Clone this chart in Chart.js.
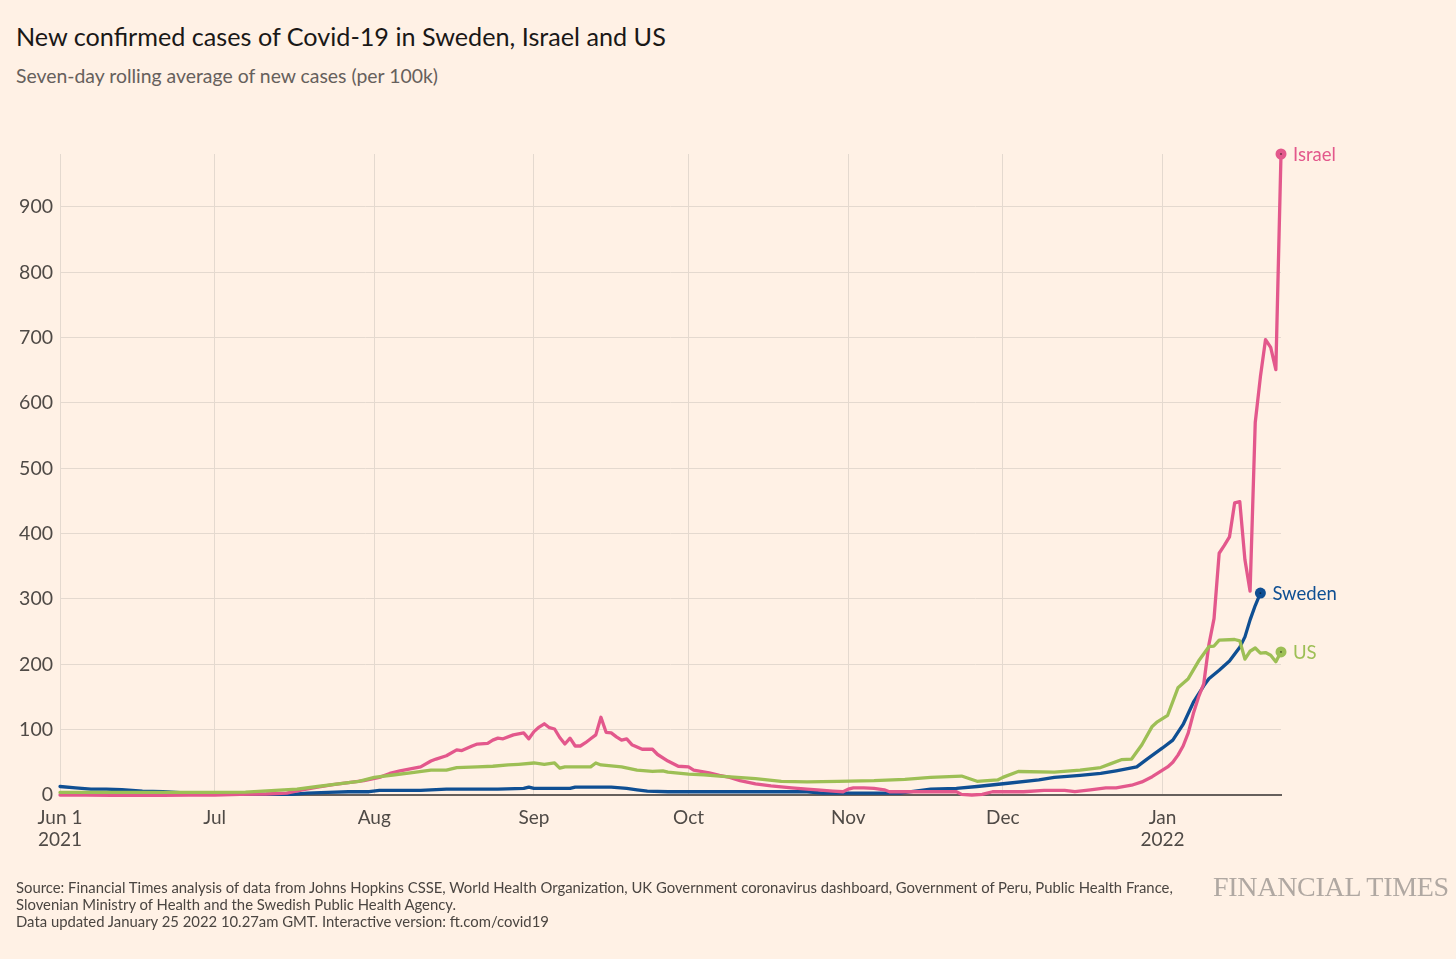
<!DOCTYPE html>
<html>
<head>
<meta charset="utf-8">
<script src="https://cdn.jsdelivr.net/npm/chart.js@4.4.1/dist/chart.umd.min.js"></script>
<style>
  html, body { margin:0; padding:0; background:#fff1e5; }
  body { width:1456px; height:959px; position:relative; overflow:hidden; font-family: Lato, "Open Sans", sans-serif; }
  #title { position:absolute; left:16px; top:22px; font-size:25.2px; line-height:28px; color:#1a1817; white-space:nowrap; }
  #subtitle { position:absolute; left:16px; top:64px; font-size:19.4px; line-height:24px; color:#66605c; white-space:nowrap; }
  #source { position:absolute; left:16px; top:879px; font-size:14.85px; line-height:17px; color:#4a4541; white-space:nowrap; }
  #logo { position:absolute; left:1213px; top:872px; font-family:"Liberation Serif", "DejaVu Serif", serif; font-size:28px; line-height:30px; color:#b0a8a2; white-space:nowrap; letter-spacing:-0.3px; }
  #c { position:absolute; left:0; top:0; }
</style>
</head>
<body>
<div id="title">New confirmed cases of Covid-19 in Sweden, Israel and US</div>
<div id="subtitle">Seven-day rolling average of new cases (per 100k)</div>
<canvas id="c" width="1456" height="959"></canvas>
<div id="source">Source: Financial Times analysis of data from Johns Hopkins CSSE, World Health Organization, UK Government coronavirus dashboard, Government of Peru, Public Health France,<br>Slovenian Ministry of Health and the Swedish Public Health Agency.<br>Data updated January 25 2022 10.27am GMT. Interactive version: ft.com/covid19</div>
<div id="logo">FINANCIAL TIMES</div>
<script>
// Day index: 0 = 1 June 2021
const tickDays   = [0, 30, 61, 92, 122, 153, 183, 214];
const tickLabels = [["Jun 1", "2021"], "Jul", "Aug", "Sep", "Oct", "Nov", "Dec", ["Jan", "2022"]];
const yTicks = [0, 100, 200, 300, 400, 500, 600, 700, 800, 900];

const israelDays = [
  0, 5, 10, 15, 20, 25, 30, 35, 40, 44,
  47, 50, 53, 56, 59, 62, 64, 66, 68, 70,
  72, 73, 75, 77, 78, 80, 81, 83, 84, 85,
  86, 88, 90, 91, 92, 93, 94, 95, 96, 97,
  98, 99, 100, 101, 102, 103, 104, 105, 106, 107,
  108, 109, 110, 111, 113, 115, 116, 118, 120, 122,
  123, 126, 128, 130, 132, 135, 138, 142, 145, 147,
  150, 152, 153, 154, 156, 158, 160, 161, 167, 174,
  175, 177, 179, 181, 187, 191, 195, 197, 200, 203,
  205, 208, 210, 212, 214, 215, 216, 217, 218, 219,
  220, 221, 222, 223, 224, 225, 226, 227, 228, 229,
  230, 231, 232, 233, 234, 235, 236, 237];
const israelValues = [
  0, 0, -0.5, -0.5, -0.5, 0, 0, 1, 1.5, 3,
  8, 12, 16, 19, 22, 27, 33, 37, 40, 43,
  52, 55, 60, 69, 68, 75, 78, 79, 84, 87,
  86, 92, 95, 86, 97, 104, 109, 103, 101, 88,
  78, 87, 75, 75, 80, 86, 92, 119, 96, 95,
  89, 84, 86, 77, 70, 70, 62, 52, 44, 43,
  38, 34, 30, 27, 22, 17, 14, 11, 9, 8,
  6, 5, 9, 11, 11, 10, 8, 5, 5, 5,
  1, 0, 1, 5, 5, 7, 7, 5, 8, 11,
  11, 15, 20, 28, 38, 43, 50, 61, 75, 95,
  125, 150, 170, 230, 270, 370, 382, 395, 447, 449,
  360, 312, 570, 640, 697, 685, 651, 981];

const swedenDays = [
  0, 3, 6, 9, 12, 16, 20, 25, 30, 38,
  45, 48, 52, 56, 60, 62, 70, 75, 85, 90,
  91, 92, 99, 100, 107, 110, 112, 114, 118, 145,
  148, 163, 166, 169, 174, 178, 184, 190, 193, 198,
  202, 205, 209, 211, 214, 216, 218, 220, 222, 223,
  225, 227, 229, 230, 231, 232, 233];
const swedenValues = [
  13, 11, 9, 9, 8, 6, 5, 3, 2, 1,
  1, 3, 4, 5, 5, 7, 7, 9, 9, 10,
  12, 10, 10, 12, 12, 10, 8, 6, 5, 5,
  3, 3, 6, 9, 10, 13, 18, 23, 27, 30,
  33, 37, 43, 55, 72, 84, 108, 142, 167, 178,
  191, 205, 226, 242, 268, 290, 309];

const usDays = [
  0, 10, 20, 30, 36, 41, 46, 50, 54, 58,
  61, 65, 68, 72, 75, 77, 81, 84, 87, 89,
  92, 94, 96, 97, 98, 103, 104, 105, 109, 112,
  115, 117, 118, 122, 125, 128, 135, 140, 145, 151,
  158, 164, 169, 175, 178, 182, 183, 186, 193, 198,
  202, 204, 206, 208, 210, 212, 213, 215, 217, 219,
  221, 223, 224, 225, 228, 229, 230, 231, 232, 233,
  234, 235, 236, 237];
const usValues = [
  4, 4, 4, 4, 4.5, 6.6, 9, 13, 17, 21,
  27, 31, 34, 38, 38, 42, 43, 44, 46, 47,
  49, 47, 49, 41, 43, 43, 49, 46, 43, 38,
  36, 37, 35, 32, 31, 29, 25, 21, 20, 21,
  22, 24, 27, 29, 21, 23, 27, 36, 35, 38,
  42, 48, 54, 55, 77, 105, 112, 122, 164, 178,
  205, 227, 228, 237, 238, 236, 208, 220, 225, 217,
  218, 214, 204, 219];

const seriesColors = { US: "#9dbf55", Israel: "#e3588c", Sweden: "#0f4f93" };

function toPoints(days, values) {
  return days.map((d, i) => ({ x: d, y: values[i] }));
}

const endLabels = {
  id: 'endLabels',
  afterDatasetsDraw(chart) {
    const ctx = chart.ctx;
    chart.data.datasets.forEach((ds, i) => {
      const meta = chart.getDatasetMeta(i);
      const pt = meta.data[meta.data.length - 1];
      ctx.save();
      ctx.beginPath();
      ctx.arc(pt.x, pt.y, 5.5, 0, Math.PI * 2);
      ctx.fillStyle = ds.borderColor;
      ctx.fill();
      ctx.beginPath();
      ctx.arc(pt.x, pt.y, 0.9, 0, Math.PI * 2);
      ctx.fillStyle = "rgba(0,0,0,0.55)";
      ctx.fill();
      ctx.font = "18.5px Lato";
      ctx.fillStyle = ds.borderColor;
      ctx.textBaseline = "middle";
      ctx.textAlign = "left";
      ctx.fillText(ds.label, pt.x + 12, pt.y + 1);
      ctx.restore();
    });
  }
};

const datasets = [
  { label: "US", data: toPoints(usDays, usValues), order: 0 },
  { label: "Israel", data: toPoints(israelDays, israelValues), order: 1 },
  { label: "Sweden", data: toPoints(swedenDays, swedenValues), order: 2 }
].map(d => Object.assign(d, {
  borderColor: seriesColors[d.label],
  backgroundColor: seriesColors[d.label],
  borderWidth: 3.3,
  pointRadius: 0,
  tension: 0,
  borderJoinStyle: 'round',
  borderCapStyle: 'round',
  fill: false,
  clip: 4
}));

new Chart(document.getElementById('c'), {
  type: 'line',
  data: { datasets },
  plugins: [endLabels],
  options: {
    responsive: false,
    animation: false,
    events: [],
    layout: { padding: { left: 0, right: 175, top: 154, bottom: 104 } },
    plugins: { legend: { display: false }, tooltip: { enabled: false } },
    scales: {
      x: {
        type: 'linear',
        min: 0,
        max: 237,
        afterBuildTicks: s => { s.ticks = tickDays.map(v => ({ value: v })); },
        afterFit: s => { s.height = 60; },
        ticks: {
          autoSkip: false,
          maxRotation: 0,
          padding: 12,
          color: "#4f4a46",
          font: { family: "Lato", size: 19, lineHeight: 1.17 },
          callback: v => { const i = tickDays.indexOf(v); return i >= 0 ? tickLabels[i] : ""; }
        },
        grid: { color: "#e4d9cf", lineWidth: 1, drawTicks: false },
        border: { display: true, color: "#66605c", width: 2 }
      },
      y: {
        min: 0,
        max: 981,
        afterBuildTicks: s => { s.ticks = yTicks.map(v => ({ value: v })); },
        afterFit: s => { s.width = 60; },
        ticks: {
          padding: 7,
          color: "#4f4a46",
          font: { family: "Lato", size: 19.5 },
          callback: v => String(v)
        },
        grid: { color: "#e4d9cf", lineWidth: 1, drawTicks: false },
        border: { display: false }
      }
    }
  }
});
</script>
</body>
</html>
